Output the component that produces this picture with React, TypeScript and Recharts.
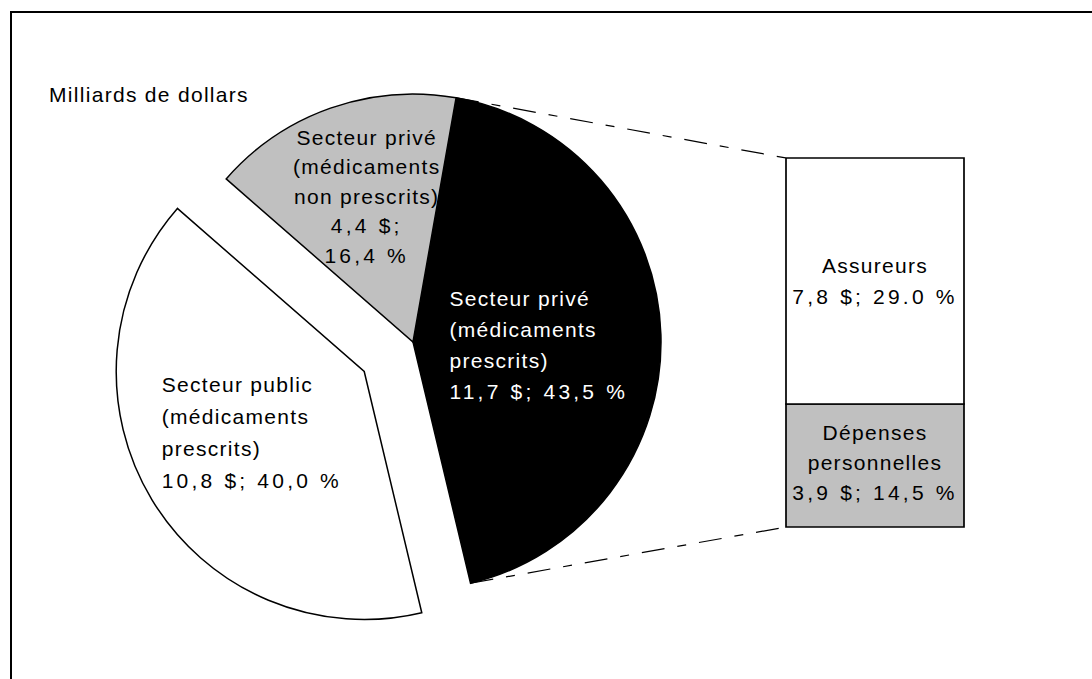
import { Bar, BarChart, Cell, Pie, PieChart, XAxis, YAxis } from "recharts";

// Dépenses en médicaments, milliards de dollars
const sliceNames = [
  "Secteur privé (médicaments prescrits)",
  "Secteur public (médicaments prescrits)",
  "Secteur privé (médicaments non prescrits)",
];
const sliceValues = [11.7, 10.8, 4.4];
const sliceLabelLines = [
  ["Secteur privé", "(médicaments", "prescrits)", "11,7 $; 43,5 %"],
  ["Secteur public", "(médicaments", "prescrits)", "10,8 $; 40,0 %"],
  ["Secteur privé", "(médicaments", "non prescrits)", "4,4 $;", "16,4 %"],
];

// Ventilation du secteur privé (médicaments prescrits), du bas vers le haut
const barNames = ["personnelles", "assureurs"];
const barValues = [3.9, 7.8];
const barLabelLines = [
  ["Dépenses", "personnelles", "3,9 $; 14,5 %"],
  ["Assureurs", "7,8 $; 29.0 %"],
];

const unitLabel = "Milliards de dollars";

const W = 1092;
const H = 679;
const FONT = '"Liberation Sans", Arial, Helvetica, sans-serif';
const FS = 21;
const CAP = 15;
const RAD = Math.PI / 180;

const SLICE_FILL = ["#000000", "#ffffff", "#c0c0c0"];
const SLICE_TEXT = ["#ffffff", "#000000", "#000000"];
// label placement per slice: fraction of radius along mid angle, nudges, line height, alignment
const SLICE_LABEL = [
  { k: 0.51, dx: -90, dy: 7, lh: 31, anchor: "start" },
  { k: 0.53, dx: -90, dy: -7, lh: 32, anchor: "start" },
  { k: 0.585, dx: 2, dy: -9, lh: 29.5, anchor: "middle" },
];
const EXPLODED = 1; // the public-sector slice is pulled out

const PIE_CX = 413;
const PIE_CY = 342;
const PIE_R = 248;
const START = 80;
const EXPLODE = 57;

const BAR_LEFT = 786;
const BAR_TOP = 158;
const BAR_W = 178;
const BAR_H = 369;
const PAD = 4;

const pieData = sliceNames.map((name, i) => ({ name, value: sliceValues[i] }));
const pieTotal = sliceValues.reduce((a, b) => a + b, 0);
const barRow: Record<string, string | number> = { name: "privé" };
barNames.forEach((n, i) => (barRow[n] = barValues[i]));
const barTotal = barValues.reduce((a, b) => a + b, 0);

// angle helpers (clockwise from START)
const cumBefore = (i: number) => sliceValues.slice(0, i).reduce((a, b) => a + b, 0);
const angleAt = (v: number) => START - (360 * v) / pieTotal;
const explodeMid = angleAt(cumBefore(EXPLODED) + sliceValues[EXPLODED] / 2);
const EX_CX = PIE_CX + EXPLODE * Math.cos(-explodeMid * RAD);
const EX_CY = PIE_CY + EXPLODE * Math.sin(-explodeMid * RAD);

function spacing(line: string) {
  return /\d/.test(line) ? 3.2 : 1.3;
}

function pieLabel(props: any, show: number) {
  const { cx, cy, midAngle, outerRadius, index } = props;
  if (index !== show) return null;
  const st = SLICE_LABEL[index];
  const r = outerRadius * st.k;
  const px = cx + r * Math.cos(-midAngle * RAD) + st.dx;
  const py = cy + r * Math.sin(-midAngle * RAD) + st.dy;
  const lines = sliceLabelLines[index];
  const first = py - ((lines.length - 1) / 2) * st.lh + CAP / 2;
  return (
    <text key={`pl-${index}`} fill={SLICE_TEXT[index]} fontSize={FS} fontFamily={FONT} textAnchor={st.anchor as any}>
      {lines.map((l, i) => (
        <tspan key={i} x={px} y={first + i * st.lh} letterSpacing={spacing(l)}>
          {l}
        </tspan>
      ))}
    </text>
  );
}

function barLabel(props: any, lines: string[], lh: number, dy: number) {
  const { x, y, width, height } = props;
  const cx = x + width / 2;
  const cy = y + height / 2 + dy;
  const first = cy - ((lines.length - 1) / 2) * lh + CAP / 2;
  return (
    <text fill="#000" fontSize={FS} fontFamily={FONT} textAnchor="middle">
      {lines.map((l, i) => (
        <tspan key={i} x={cx} y={first + i * lh} letterSpacing={spacing(l)}>
          {l}
        </tspan>
      ))}
    </text>
  );
}

export default function App() {
  // connector lines from the black slice edges to the bar corners
  const blackEnd = angleAt(sliceValues[0]);
  const p1 = { x: PIE_CX + PIE_R * Math.cos(-START * RAD), y: PIE_CY + PIE_R * Math.sin(-START * RAD) };
  const p2 = { x: PIE_CX + PIE_R * Math.cos(-blackEnd * RAD), y: PIE_CY + PIE_R * Math.sin(-blackEnd * RAD) };

  return (
    <div style={{ position: "absolute", left: 0, top: 0, width: W, height: H, overflow: "hidden", background: "#fff" }}>
      <div style={{ position: "absolute", left: 10, top: 11, width: 1120, height: 720, border: "2px solid #000" }} />

      <svg width={W} height={H} style={{ position: "absolute", left: 0, top: 0 }}>
        <text x={49} y={102} fontSize={FS} fontFamily={FONT} letterSpacing={1.3} fill="#000">
          {unitLabel}
        </text>
        <g stroke="#000" strokeWidth={1.2} strokeDasharray="23 13 9 13" fill="none">
          <line x1={p1.x} y1={p1.y} x2={BAR_LEFT} y2={BAR_TOP} />
          <line x1={p2.x} y1={p2.y} x2={BAR_LEFT} y2={BAR_TOP + BAR_H} />
        </g>
      </svg>

      <div style={{ position: "absolute", left: BAR_LEFT - PAD, top: BAR_TOP - PAD }}>
        <BarChart
          width={BAR_W + 2 * PAD}
          height={BAR_H + 2 * PAD}
          data={[barRow]}
          margin={{ top: PAD, right: PAD, bottom: PAD, left: PAD }}
          barCategoryGap={0}
          barGap={0}
        >
          <XAxis dataKey="name" hide />
          <YAxis hide domain={[0, barTotal]} />
          <Bar
            dataKey={barNames[0]}
            stackId="a"
            fill="#c0c0c0"
            stroke="#000"
            strokeWidth={1.7}
            isAnimationActive={false}
            label={(p: any) => barLabel(p, barLabelLines[0], 30, -3)}
          />
          <Bar
            dataKey={barNames[1]}
            stackId="a"
            fill="#ffffff"
            stroke="#000"
            strokeWidth={1.7}
            isAnimationActive={false}
            label={(p: any) => barLabel(p, barLabelLines[1], 31.5, 0)}
          />
        </BarChart>
      </div>

      <div style={{ position: "absolute", left: 0, top: 0 }}>
        <PieChart width={W} height={H} margin={{ top: 0, right: 0, bottom: 0, left: 0 }}>
          <Pie
            data={pieData}
            dataKey="value"
            nameKey="name"
            cx={PIE_CX}
            cy={PIE_CY}
            outerRadius={PIE_R}
            startAngle={START}
            endAngle={START - 360}
            labelLine={false}
            label={(p: any) => (p.index === EXPLODED ? null : pieLabel(p, p.index))}
            isAnimationActive={false}
          >
            {pieData.map((_, i) => (
              <Cell
                key={i}
                fill={i === EXPLODED ? "none" : SLICE_FILL[i]}
                stroke={i === EXPLODED ? "none" : "#000"}
                strokeWidth={1.5}
              />
            ))}
          </Pie>
          <Pie
            data={pieData}
            dataKey="value"
            nameKey="name"
            cx={EX_CX}
            cy={EX_CY}
            outerRadius={PIE_R}
            startAngle={START}
            endAngle={START - 360}
            labelLine={false}
            label={(p: any) => pieLabel(p, EXPLODED)}
            isAnimationActive={false}
          >
            {pieData.map((_, i) => (
              <Cell
                key={i}
                fill={i === EXPLODED ? SLICE_FILL[i] : "none"}
                stroke={i === EXPLODED ? "#000" : "none"}
                strokeWidth={1.5}
              />
            ))}
          </Pie>
        </PieChart>
      </div>
    </div>
  );
}
